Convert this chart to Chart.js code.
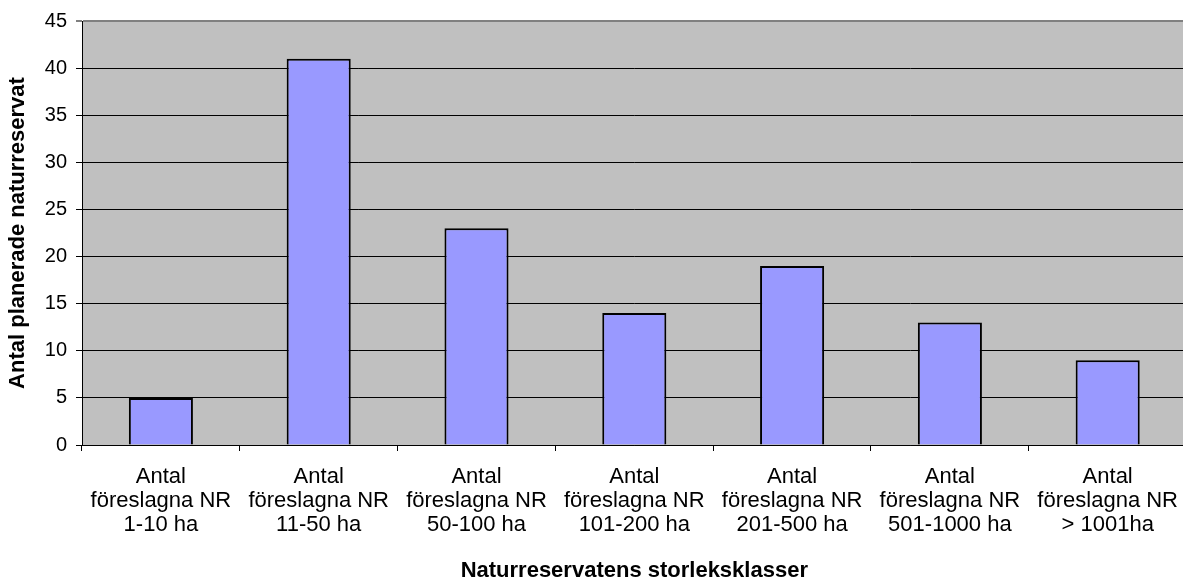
<!DOCTYPE html>
<html>
<head>
<meta charset="utf-8">
<script src="https://cdn.jsdelivr.net/npm/chart.js@4.4.1/dist/chart.umd.min.js"></script>
<style>
  html, body { margin: 0; padding: 0; background: #fff; overflow: hidden; }
  #wrap { position: absolute; left: 0; top: 0; width: 1192px; height: 578px; }
</style>
</head>
<body>
<div id="wrap"><canvas id="c"></canvas></div>
<script>
const categories = [
  ["Antal", "föreslagna NR", "1-10 ha"],
  ["Antal", "föreslagna NR", "11-50 ha"],
  ["Antal", "föreslagna NR", "50-100 ha"],
  ["Antal", "föreslagna NR", "101-200 ha"],
  ["Antal", "föreslagna NR", "201-500 ha"],
  ["Antal", "föreslagna NR", "501-1000 ha"],
  ["Antal", "föreslagna NR", "> 1001ha"]
];
const values = [5, 41, 23, 14, 19, 13, 9];
const yMin = 0, yMax = 45, yStep = 5;
const yTitle = "Antal planerade naturreservat";
const xTitle = "Naturreservatens storleksklasser";

const FONT = "'Liberation Sans', Arial, Helvetica, sans-serif";

const plotBg = {
  id: 'plotBg',
  beforeDraw(chart) {
    const a = chart.chartArea, ctx = chart.ctx;
    ctx.save();
    ctx.fillStyle = '#C0C0C0';
    ctx.fillRect(a.left, a.top, a.right - a.left, a.bottom - a.top);
    ctx.restore();
  }
};

new Chart(document.getElementById('c'), {
  type: 'bar',
  data: {
    labels: categories,
    datasets: [{
      data: values,
      backgroundColor: '#9999FF',
      borderColor: '#000000',
      borderWidth: 2,
      barPercentage: 0.406,
      categoryPercentage: 1.0
    }]
  },
  options: {
    responsive: true,
    maintainAspectRatio: false,
    animation: false,
    devicePixelRatio: 1,
    layout: { padding: { top: 20, left: 0, right: 0, bottom: 0 } },
    plugins: { legend: { display: false }, tooltip: { enabled: false } },
    scales: {
      x: {
        offset: true,
        grid: { drawOnChartArea: false, color: '#000', tickLength: 6, offset: true },
        border: { color: '#000', width: 1 },
        ticks: {
          color: '#000', padding: 14, maxRotation: 0, autoSkip: false,
          font: { family: FONT, size: 22, lineHeight: '24px' }
        },
        title: {
          display: true, text: xTitle, color: '#000',
          font: { family: FONT, size: 22, weight: 'bold', lineHeight: 1.2 },
          padding: { top: 0, bottom: -6 }
        },
        afterFit(scale) { scale.height = 133; }
      },
      y: {
        min: yMin, max: yMax,
        grid: {
          color: (c) => (c.tick && c.tick.value === yMax) ? '#808080' : '#000',
          lineWidth: (c) => (c.tick && c.tick.value === yMax) ? 2 : 1,
          tickLength: 6
        },
        border: { color: '#000', width: 1 },
        ticks: {
          stepSize: yStep, color: '#000', padding: 9,
          font: { family: FONT, size: 20 }
        },
        title: {
          display: true, text: yTitle, color: '#000',
          font: { family: FONT, size: 22, weight: 'bold', lineHeight: 1.2 },
          padding: { top: 5, bottom: 4 }
        },
        afterFit(scale) { scale.width = 82; }
      }
    }
  },
  plugins: [plotBg]
});
</script>
</body>
</html>
